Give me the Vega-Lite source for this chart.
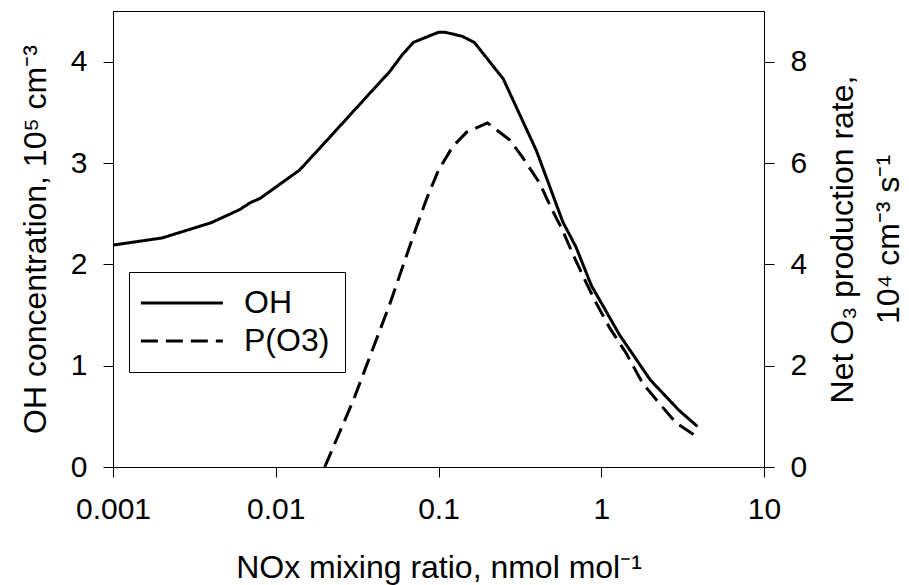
{
  "$schema": "https://vega.github.io/schema/vega-lite/v6.json",
  "width": 651,
  "height": 456,
  "autosize": "none",
  "padding": {"left": 113, "top": 11, "right": 145, "bottom": 118},
  "background": "white",
  "config": {
    "font": "Liberation Sans",
    "view": {"stroke": "black", "strokeWidth": 1},
    "axis": {
      "labelFont": "Liberation Sans",
      "titleFont": "Liberation Sans",
      "labelFontSize": 30,
      "titleFontSize": 32,
      "titleFontWeight": "normal",
      "labelColor": "black",
      "titleColor": "black",
      "domainColor": "black",
      "tickColor": "black",
      "tickSize": 10,
      "grid": false
    },
    "legend": {"labelFont": "Liberation Sans"}
  },
  "datasets": {
    "oh": [
      {"nox": 0.001, "oh": 2.19}, {"nox": 0.002, "oh": 2.26}, {"nox": 0.004, "oh": 2.41},
      {"nox": 0.006, "oh": 2.54}, {"nox": 0.007, "oh": 2.61}, {"nox": 0.008, "oh": 2.65},
      {"nox": 0.014, "oh": 2.93}, {"nox": 0.02, "oh": 3.2}, {"nox": 0.036, "oh": 3.65},
      {"nox": 0.05, "oh": 3.9}, {"nox": 0.06, "oh": 4.07}, {"nox": 0.07, "oh": 4.19},
      {"nox": 0.1, "oh": 4.29}, {"nox": 0.11, "oh": 4.29}, {"nox": 0.14, "oh": 4.25},
      {"nox": 0.166, "oh": 4.19}, {"nox": 0.25, "oh": 3.83}, {"nox": 0.4, "oh": 3.12},
      {"nox": 0.5, "oh": 2.7}, {"nox": 0.58, "oh": 2.42}, {"nox": 0.7, "oh": 2.17},
      {"nox": 0.87, "oh": 1.79}, {"nox": 1.0, "oh": 1.62}, {"nox": 1.3, "oh": 1.3},
      {"nox": 2.0, "oh": 0.86}, {"nox": 3.0, "oh": 0.56}, {"nox": 3.9, "oh": 0.4}
    ],
    "po3": [
      {"nox": 0.02, "p": 0}, {"nox": 0.03, "p": 1.32}, {"nox": 0.05, "p": 3.2},
      {"nox": 0.07, "p": 4.56}, {"nox": 0.084, "p": 5.27}, {"nox": 0.1, "p": 5.86},
      {"nox": 0.122, "p": 6.32}, {"nox": 0.149, "p": 6.61}, {"nox": 0.2, "p": 6.79},
      {"nox": 0.273, "p": 6.46}, {"nox": 0.327, "p": 6.12}, {"nox": 0.417, "p": 5.61},
      {"nox": 0.5, "p": 5.07}, {"nox": 0.577, "p": 4.68}, {"nox": 0.68, "p": 4.15},
      {"nox": 0.81, "p": 3.63}, {"nox": 0.93, "p": 3.24}, {"nox": 1.12, "p": 2.76},
      {"nox": 1.42, "p": 2.25}, {"nox": 1.79, "p": 1.66}, {"nox": 2.27, "p": 1.26},
      {"nox": 2.88, "p": 0.87}, {"nox": 3.7, "p": 0.64}
    ]
  },
  "layer": [
    {
      "data": {"name": "oh"},
      "mark": {"type": "line", "color": "black", "strokeWidth": 3, "clip": true},
      "encoding": {
        "x": {
          "field": "nox", "type": "quantitative",
          "scale": {"type": "log", "domain": [0.001, 10]},
          "axis": {
            "values": [0.001, 0.01, 0.1, 1, 10],
            "format": "~g",
            "labelFlush": false,
            "title": "NOx mixing ratio, nmol mol⁻¹",
            "labelPadding": 17,
            "titlePadding": 28
          }
        },
        "y": {
          "field": "oh", "type": "quantitative",
          "scale": {"domain": [0, 4.5], "nice": false},
          "axis": {
            "orient": "left",
            "values": [0, 1, 2, 3, 4],
            "title": "OH concentration, 10⁵ cm⁻³",
            "labelPadding": 16,
            "titlePadding": 18
          }
        },
        "strokeDash": {
          "datum": "OH",
          "scale": {"domain": ["OH", "P(O3)"], "range": [[1, 0], [17, 8]]},
          "legend": {
            "title": null,
            "orient": "none",
            "legendX": 16,
            "legendY": 261,
            "strokeColor": "black",
            "padding": 15,
            "symbolType": "M-1.4,0H4.6",
            "symbolSize": 747,
            "symbolStrokeWidth": 3,
            "symbolStrokeColor": "black",
            "symbolFillColor": "transparent",
            "labelFontSize": 32,
            "labelColor": "black",
            "labelOffset": 68,
            "rowPadding": 6,
            "cornerRadius": 0
          }
        }
      }
    },
    {
      "data": {"name": "po3"},
      "mark": {"type": "line", "color": "black", "strokeWidth": 3, "clip": true},
      "encoding": {
        "x": {"field": "nox", "type": "quantitative", "scale": {"type": "log", "domain": [0.001, 10]}},
        "y": {
          "field": "p", "type": "quantitative",
          "scale": {"domain": [0, 9], "nice": false},
          "axis": {
            "orient": "right",
            "values": [0, 2, 4, 6, 8],
            "title": ["Net O₃ production rate,", "10⁴ cm⁻³ s⁻¹"],
            "titleAngle": 270,
            "titleLineHeight": 46,
            "labelPadding": 16,
            "titlePadding": 7
          }
        },
        "strokeDash": {"datum": "P(O3)"}
      }
    }
  ],
  "resolve": {"scale": {"y": "independent"}}
}
